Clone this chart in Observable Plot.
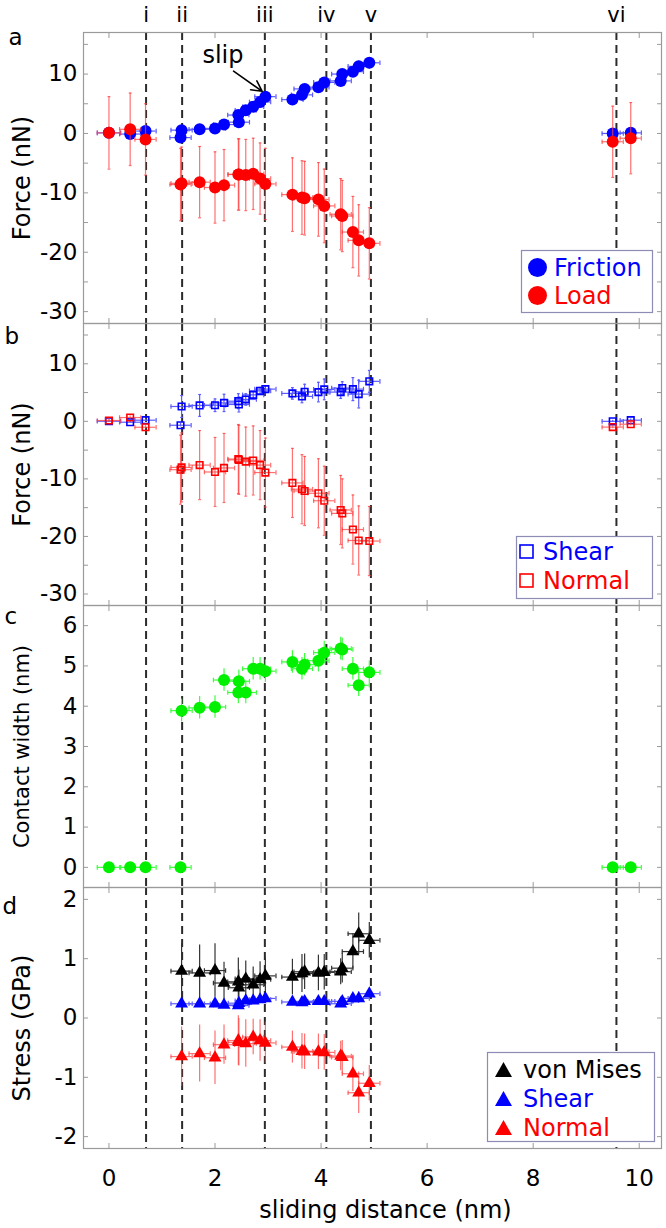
<!DOCTYPE html>
<html><head><meta charset="utf-8">
<script src="https://cdn.jsdelivr.net/npm/d3@7"></script>
<script src="https://cdn.jsdelivr.net/npm/@observablehq/plot@0.6"></script>
<style>
body{margin:0;background:#fff;font-family:"DejaVu Sans",sans-serif;}
#wrap{position:relative;width:666px;height:1228px;overflow:hidden;}
#wrap svg.panel{display:block;}
#overlay{position:absolute;left:0;top:0;pointer-events:none;}
</style></head><body><div id="wrap"></div><script>
// ---------- data ----------
const distance = [0,0.40,0.69,1.35,1.37,1.71,2.00,2.17,2.44,2.45,2.58,2.72,2.85,2.95,3.46,3.64,3.69,3.95,4.06,4.37,4.40,4.60,4.71,4.91,9.50,9.84];
const distanceErr = [0.22,0.2,0.2,0.2,0.2,0.2,0.2,0.2,0.2,0.2,0.2,0.2,0.2,0.2,0.2,0.2,0.2,0.2,0.2,0.2,0.2,0.2,0.2,0.2,0.2,0.2];
const friction = [0.1,-0.1,0.4,-0.7,0.56,0.7,0.85,1.5,3.1,1.9,3.9,4.5,5.3,6.2,5.7,6.5,7.5,7.8,8.6,8.85,10.0,10.4,11.3,11.9,0,0.1];
const frictionErr = [0.2,0.2,0.2,0.2,0.2,0.2,0.2,0.2,0.2,0.2,0.2,0.2,0.2,0.2,0.2,0.2,0.2,0.2,0.2,0.2,0.2,0.2,0.2,0.2,0.2,0.2];
const load = [0.1,0.7,-1.0,-8.6,-8.4,-8.2,-9.1,-8.7,-6.9,-6.9,-7.0,-6.8,-7.6,-8.5,-10.3,-10.8,-10.9,-11.1,-12.2,-13.6,-13.9,-16.6,-18.0,-18.5,-1.4,-0.8];
const loadErr = [6.1,6.1,6.0,6.1,6.1,6.0,6.0,6.0,6.0,6.0,6.0,6.0,6.0,6.0,6.2,6.2,6.2,6.2,6.2,6.0,6.0,6.0,6.0,6.0,6.0,6.0];
const shear = [0.02,-0.15,0.2,-0.68,2.58,2.76,2.8,3.2,3.5,2.93,3.8,4.6,5.3,5.6,4.85,4.33,5.14,5.08,5.55,5.08,5.78,5.6,4.73,6.95,0,0.2];
const shearErr = [0.2,0.2,0.2,0.3,1.9,1.9,1.1,1.5,1.3,1.3,1.0,0.6,0.6,0.6,1.0,1.1,1.3,1.7,1.8,1.1,1.1,2.0,2.4,1.9,0.2,0.2];
const normal = [0.14,0.66,-1.03,-8.4,-8.0,-7.6,-8.8,-8.1,-6.55,-6.7,-7.0,-6.8,-7.6,-8.9,-10.7,-11.8,-12.1,-12.5,-13.8,-15.4,-16.0,-18.8,-20.7,-20.8,-1.0,-0.5];
const normalErr = [0.3,0.3,0.3,6,6,6,6,6,6,6,6,6,6,6,6,6,6,6,6,6,6,6,6,6,0.3,0.3];
const contactWidth = [0,0,0,0,3.89,3.96,3.98,4.65,4.34,4.62,4.34,4.93,4.93,4.87,5.1,4.93,5.03,5.13,5.33,5.43,5.41,4.93,4.52,4.84,0,0];
const contactWidthErr = [0,0,0,0,0.28,0.28,0.28,0.28,0.28,0.28,0.28,0.28,0.28,0.28,0.28,0.28,0.28,0.28,0.28,0.28,0.28,0.28,0.28,0.28,0,0];
const vonMises = [null,null,null,null,0.79,0.76,0.80,0.59,0.61,0.51,0.66,0.56,0.65,0.71,0.69,0.75,0.78,0.76,0.77,0.78,0.84,1.12,1.42,1.31,null,null];
const vonMisesErr = [0,0,0,0,0.46,0.47,0.45,0.35,0.4,0.3,0.3,0.3,0.3,0.3,0.3,0.32,0.3,0.3,0.3,0.22,0.25,0.3,0.35,0.3,0,0];
const shearStress = [null,null,null,null,0.24,0.24,0.24,0.22,0.21,0.25,0.29,0.29,0.31,0.33,0.27,0.26,0.28,0.28,0.28,0.24,0.28,0.33,0.33,0.41,null,null];
const shearStressErr = [0,0,0,0,0.06,0.06,0.06,0.06,0.06,0.06,0.06,0.06,0.06,0.06,0.06,0.06,0.06,0.06,0.06,0.06,0.06,0.08,0.08,0.06,0,0];
const normalStress = [null,null,null,null,-0.65,-0.60,-0.67,-0.45,-0.38,-0.41,-0.43,-0.32,-0.38,-0.42,-0.49,-0.56,-0.57,-0.57,-0.58,-0.64,-0.66,-0.94,-1.26,-1.10,null,null];
const normalStressErr = [0,0,0,0,0.5,0.48,0.45,0.33,0.42,0.4,0.4,0.3,0.35,0.35,0.27,0.3,0.3,0.3,0.3,0.25,0.28,0.3,0.35,0.3,0,0];

const events = [0.70,1.38,2.94,4.10,4.94,9.57];
const eventLabels = ["i","ii","iii","iv","v","vi"];
const slipLabel = [{x:2.15, y:13.2, text:"slip"}];
const slipArrow = [{x1:2.35, y1:10.5, x2:2.89, y2:7.1}];

const xDomain = [-0.48, 10.42];
const xTicks = [0,2,4,6,8,10];
const forceDomain = [-32, 17];
const forceTicks = [-30,-20,-10,0,10];
const forceMinor = [-30,-25,-20,-15,-10,-5,0,5,10,15];
const widthDomain = [-0.5, 6.5];
const widthTicks = [0,1,2,3,4,5,6];
const stressDomain = [-2.2, 2.2];
const stressTicks = [-2,-1,0,1,2];

const legendA = [{label:"Friction", color:"#0000ff"}, {label:"Load", color:"#ff0000"}];
const legendB = [{label:"Shear", color:"#0000ff"}, {label:"Normal", color:"#ff0000"}];
const legendD = [{label:"von Mises", color:"#000000"}, {label:"Shear", color:"#0000ff"}, {label:"Normal", color:"#ff0000"}];

// ---------- helpers ----------
const rows = distance.map((x, i) => ({
  x, ex: distanceErr[i],
  friction: friction[i], frictionErr: frictionErr[i],
  load: load[i], loadErr: loadErr[i],
  shear: shear[i], shearErr: shearErr[i],
  normal: normal[i], normalErr: normalErr[i],
  width: contactWidth[i], widthErr: contactWidthErr[i],
  vm: vonMises[i], vmErr: vonMisesErr[i],
  ss: shearStress[i], ssErr: shearStressErr[i],
  ns: normalStress[i], nsErr: normalStressErr[i]
}));

const capV = {draw(ctx, size){ const h = Math.sqrt(size)/2; ctx.moveTo(0,-h); ctx.lineTo(0,h); }};
const capH = {draw(ctx, size){ const h = Math.sqrt(size)/2; ctx.moveTo(-h,0); ctx.lineTo(h,0); }};

function series(key, errKey, {color, errColor, symbol = "circle", r = 6, hollow = false, errOpacity = 1}) {
  const d = rows.filter(o => o[key] != null);
  const eStyle = {stroke: errColor, strokeWidth: 1.2, strokeOpacity: errOpacity};
  return [
    Plot.ruleY(d, {y: key, x1: o => o.x - o.ex, x2: o => o.x + o.ex, ...eStyle}),
    Plot.ruleX(d, {x: "x", y1: o => o[key] - o[errKey], y2: o => o[key] + o[errKey], ...eStyle}),
    Plot.dot(d, {x: o => o.x - o.ex, y: key, symbol: capV, r: 2.6, fill: "none", ...eStyle}),
    Plot.dot(d, {x: o => o.x + o.ex, y: key, symbol: capV, r: 2.6, fill: "none", ...eStyle}),
    Plot.dot(d.filter(o => o[errKey] > 0.5), {x: "x", y: o => o[key] - o[errKey], symbol: capH, r: 1.6, fill: "none", ...eStyle}),
    Plot.dot(d.filter(o => o[errKey] > 0.5), {x: "x", y: o => o[key] + o[errKey], symbol: capH, r: 1.6, fill: "none", ...eStyle}),
    hollow
      ? Plot.dot(d, {x: "x", y: key, symbol, r, fill: "none", stroke: color, strokeWidth: 1.6})
      : Plot.dot(d, {x: "x", y: key, symbol, r, fill: color, stroke: "none"})
  ];
}

const gray = "#9a9a9a";
const fmt = d => String(d);

function panel({height, marginTop = 0, marginBottom = 0, yDomain, yTicks, yMinor, yLabel, labelSize = 24, labelDy = 0,
                letter, letterDx, letterDy, marks, xLabels = false}) {
  return Plot.plot({
    width: 666, height, marginLeft: 83, marginRight: 5, marginTop, marginBottom,
    style: {fontFamily: "DejaVu Sans", fontSize: "23px", background: "transparent", overflow: "visible", color: "black"},
    x: {domain: xDomain},
    y: {domain: yDomain},
    marks: [
      Plot.ruleX(events, {stroke: "#2b2b2b", strokeWidth: 2, strokeDasharray: "8,5"}),
      ...marks,
      Plot.frame({stroke: gray, strokeWidth: 1.2}),
      Plot.axisX(xTicks, {anchor: "bottom", tickSize: 5, dy: -5, tickFormat: () => "", label: null, stroke: gray}),
      Plot.axisX(xTicks, {anchor: "top", tickSize: 5, dy: 5, tickFormat: () => "", label: null, stroke: gray}),
      Plot.axisY(yMinor, {anchor: "left", tickSize: 5, dx: 5, tickFormat: () => "", label: null, stroke: gray}),
      Plot.axisY(yMinor, {anchor: "right", tickSize: 5, dx: -5, tickFormat: () => "", label: null, stroke: gray}),
      Plot.axisY(yTicks, {anchor: "left", tickSize: 0, tickPadding: 6, fontSize: 23, tickFormat: fmt, label: null}),
      xLabels ? Plot.axisX(xTicks, {anchor: "bottom", tickSize: 0, tickPadding: 21, fontSize: 23, tickFormat: fmt, label: null}) : null,
      xLabels ? Plot.text(["sliding distance (nm)"], {frameAnchor: "bottom", dx: 13, dy: 62, fontSize: 24, lineAnchor: "middle"}) : null,
      Plot.text([yLabel], {frameAnchor: "left", rotate: -90, dx: -61, dy: labelDy, fontSize: labelSize, textAnchor: "middle", lineAnchor: "middle"}),
      Plot.text([letter], {frameAnchor: "top-left", dx: letterDx, dy: letterDy, fontSize: 23})
    ]
  });
}

// ---------- panels ----------
const wrap = document.getElementById("wrap");

const pa = panel({
  height: 323, marginTop: 32, yDomain: forceDomain, yTicks: forceTicks, yMinor: forceMinor,
  yLabel: "Force (nN)", letter: "a", letterDx: -75, letterDy: -4,
  marks: [
    ...series("friction", "frictionErr", {color: "#0000ff", errColor: "#5b5bff"}),
    ...series("load", "loadErr", {color: "#ff0000", errColor: "#ff4040", errOpacity: 0.75}),
    Plot.text(eventLabels, {x: events, frameAnchor: "top", dy: -17, fontSize: 21, lineAnchor: "middle"}),
    Plot.arrow(slipArrow, {x1: "x1", y1: "y1", x2: "x2", y2: "y2", stroke: "black", strokeWidth: 1.6, headLength: 13, headAngle: 55}),
    Plot.text(slipLabel, {x: "x", y: "y", text: "text", fontSize: 24})
  ]
});
const pb = panel({
  height: 282, yDomain: forceDomain, yTicks: forceTicks, yMinor: forceMinor,
  yLabel: "Force (nN)", letter: "b", letterDx: -79, letterDy: 4,
  marks: [
    ...series("shear", "shearErr", {color: "#0000ff", errColor: "#5b5bff", symbol: "square", r: 3.7, hollow: true}),
    ...series("normal", "normalErr", {color: "#ff0000", errColor: "#ff4040", symbol: "square", r: 3.7, hollow: true, errOpacity: 0.75})
  ]
});
const pc = panel({
  height: 282, yDomain: widthDomain, yTicks: widthTicks, yMinor: widthTicks,
  yLabel: "Contact width (nm)", labelSize: 21, letter: "c", letterDx: -79, letterDy: 2,
  marks: [
    ...series("width", "widthErr", {color: "#00f000", errColor: "#3cff3c"})
  ]
});
const pd = panel({
  height: 341, marginBottom: 80, yDomain: stressDomain, yTicks: stressTicks, yMinor: stressTicks,
  yLabel: "Stress (GPa)", labelDy: 10, letter: "d", letterDx: -81, letterDy: 10, xLabels: true,
  marks: [
    ...series("vm", "vmErr", {color: "#000000", errColor: "#333333", symbol: "triangle", r: 4.8}),
    ...series("ss", "ssErr", {color: "#0000ff", errColor: "#5b5bff", symbol: "triangle", r: 4.8}),
    ...series("ns", "nsErr", {color: "#ff0000", errColor: "#ff4040", symbol: "triangle", r: 4.8, errOpacity: 0.75})
  ]
});
for (const p of [pa, pb, pc, pd]) { p.classList.add("panel"); wrap.appendChild(p); }

// ---------- legends (overlay) ----------
const ns = "http://www.w3.org/2000/svg";
const ov = document.createElementNS(ns, "svg");
ov.setAttribute("id", "overlay"); ov.setAttribute("width", 666); ov.setAttribute("height", 1228);
function el(tag, attrs, text) {
  const e = document.createElementNS(ns, tag);
  for (const k in attrs) e.setAttribute(k, attrs[k]);
  if (text != null) e.textContent = text;
  ov.appendChild(e); return e;
}
function legend(items, box, symX, textX, rowY, kind) {
  el("rect", {x: box[0] + 0.5, y: box[1] + 0.5, width: box[2], height: box[3], fill: "white", stroke: "#8c8cb4", "stroke-width": 1.2});
  items.forEach((it, i) => {
    const y = rowY[i];
    if (kind === "circle") el("circle", {cx: symX, cy: y, r: 9.5, fill: it.color});
    if (kind === "square") el("rect", {x: symX - 6.5, y: y - 6.5, width: 13, height: 13, fill: "none", stroke: it.color, "stroke-width": 1.6});
    if (kind === "triangle") el("polygon", {points: `${symX - 8.5},${y + 7} ${symX + 8.5},${y + 7} ${symX},${y - 8}`, fill: it.color});
    el("text", {x: textX, y: y, "dominant-baseline": "central", "font-family": "DejaVu Sans", "font-size": 24, fill: it.color}, it.label);
  });
}
legend(legendA, [521, 250, 131, 62], 537.5, 554, [267.5, 295.5], "circle");
legend(legendB, [516, 536, 136, 62], 526.5, 543, [551.5, 580.5], "square");
legend(legendD, [487, 1052, 167, 89], 503.5, 523, [1070, 1099, 1128], "triangle");
wrap.appendChild(ov);
</script></body></html>
